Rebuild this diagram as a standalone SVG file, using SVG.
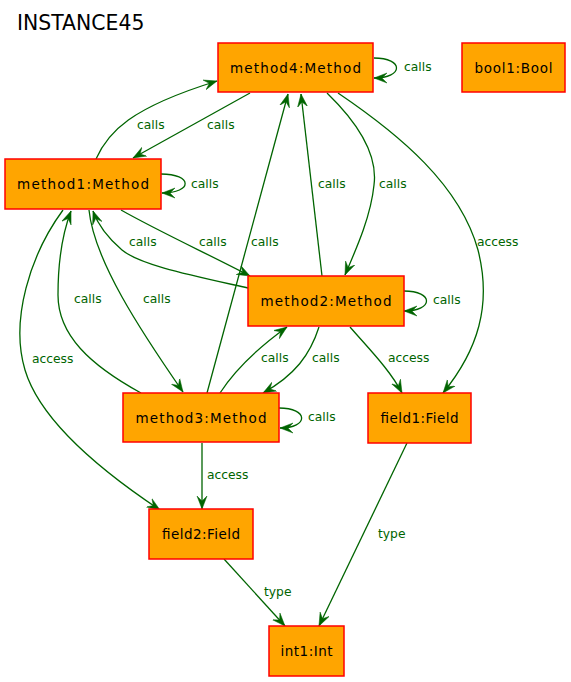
<svg xmlns="http://www.w3.org/2000/svg" width="571" height="682" viewBox="0 0 571 682">
<style>
.node rect{fill:#FFA500;stroke:#FF0000;stroke-width:1.5}
.node text{font-family:"DejaVu Sans","Liberation Sans",sans-serif;font-size:13.5px;fill:#000;text-anchor:middle}
.edges path{fill:none;stroke:#006400;stroke-width:1.3;marker-end:url(#vee)}
.edges text{font-family:"DejaVu Sans","Liberation Sans",sans-serif;font-size:12.3px;fill:#006400}
.title{font-family:"DejaVu Sans","Liberation Sans",sans-serif;font-size:20.4px;fill:#000}
</style>
<defs>
<marker id="vee" markerUnits="userSpaceOnUse" markerWidth="14" markerHeight="12" refX="13" refY="5.5" orient="auto" viewBox="0 0 14 11">
<path d="M0,0.5 L13,5.5 L0,10.5 L5,5.5 Z" fill="#006400" stroke="#006400" stroke-width="0.5"/>
</marker>
</defs>
<rect width="571" height="682" fill="#fff"/>
<text class="title" x="17" y="30">INSTANCE45</text>
<g id="edges" class="edges">
<path d="M96,159 C108,132 130,108 217,81"/>
<text x="137" y="129">calls</text>
<path d="M250,93 L133,158"/>
<text x="207" y="129">calls</text>
<path d="M161,174 C193,174 193,193 162,193"/>
<text x="191" y="188">calls</text>
<path d="M374,58 C404,58 404,78 374,78"/>
<text x="404" y="71">calls</text>
<path d="M327,93 C360,125 378,155 374,185 C371,215 358,245 345,275"/>
<text x="379" y="188">calls</text>
<path d="M338,93 C400,135 460,185 478,250 C492,305 478,350 443,393"/>
<text x="477" y="246">access</text>
<path d="M322,276 L301,94"/>
<text x="318" y="188">calls</text>
<path d="M207,393 L288,94"/>
<text x="251" y="246">calls</text>
<path d="M121,210 C160,232 210,255 250,276"/>
<text x="199" y="246">calls</text>
<path d="M248,288 C190,275 140,265 122,250 C108,238 98,225 93,211"/>
<text x="129" y="246">calls</text>
<path d="M89,210 C94,260 140,330 183,392"/>
<text x="143" y="303">calls</text>
<path d="M141,393 C90,365 58,335 58,295 C58,260 63,232 71,211"/>
<text x="74" y="303">calls</text>
<path d="M63,210 C30,255 10,320 25,370 C40,420 100,470 160,510"/>
<text x="32" y="363">access</text>
<path d="M404,291 C434,291 434,311 404,311"/>
<text x="433" y="304">calls</text>
<path d="M220,393 C235,370 255,350 287,327"/>
<text x="261" y="362">calls</text>
<path d="M319,327 C310,355 295,375 263,393"/>
<text x="312" y="362">calls</text>
<path d="M350,327 C370,350 390,370 402,393"/>
<text x="388" y="362">access</text>
<path d="M279,408 C309,408 309,428 280,428"/>
<text x="308" y="421">calls</text>
<path d="M202,443 L202,509"/>
<text x="207" y="479">access</text>
<path d="M407,443 L319,626"/>
<text x="378" y="538">type</text>
<path d="M224,559 L285,626"/>
<text x="264" y="596">type</text>
</g>
<g id="method4" class="node"><rect x="218" y="43" width="155" height="49"/><text x="295.5" y="72.5" textLength="131" lengthAdjust="spacing">method4:Method</text></g>
<g id="bool1" class="node"><rect x="462" y="43" width="103" height="49"/><text x="513.5" y="72.5" textLength="78" lengthAdjust="spacing">bool1:Bool</text></g>
<g id="method1" class="node"><rect x="5" y="159" width="156" height="50"/><text x="83" y="189" textLength="132" lengthAdjust="spacing">method1:Method</text></g>
<g id="method2" class="node"><rect x="248" y="276" width="156" height="50"/><text x="326" y="306" textLength="131" lengthAdjust="spacing">method2:Method</text></g>
<g id="method3" class="node"><rect x="123" y="393" width="156" height="49"/><text x="201" y="422.5" textLength="131" lengthAdjust="spacing">method3:Method</text></g>
<g id="field1" class="node"><rect x="368" y="393" width="103" height="50"/><text x="419.5" y="423" textLength="78" lengthAdjust="spacing">field1:Field</text></g>
<g id="field2" class="node"><rect x="149" y="509" width="104" height="50"/><text x="201" y="539" textLength="78" lengthAdjust="spacing">field2:Field</text></g>
<g id="int1" class="node"><rect x="269" y="626" width="75" height="50"/><text x="306.5" y="656" textLength="52" lengthAdjust="spacing">int1:Int</text></g>
</svg>
